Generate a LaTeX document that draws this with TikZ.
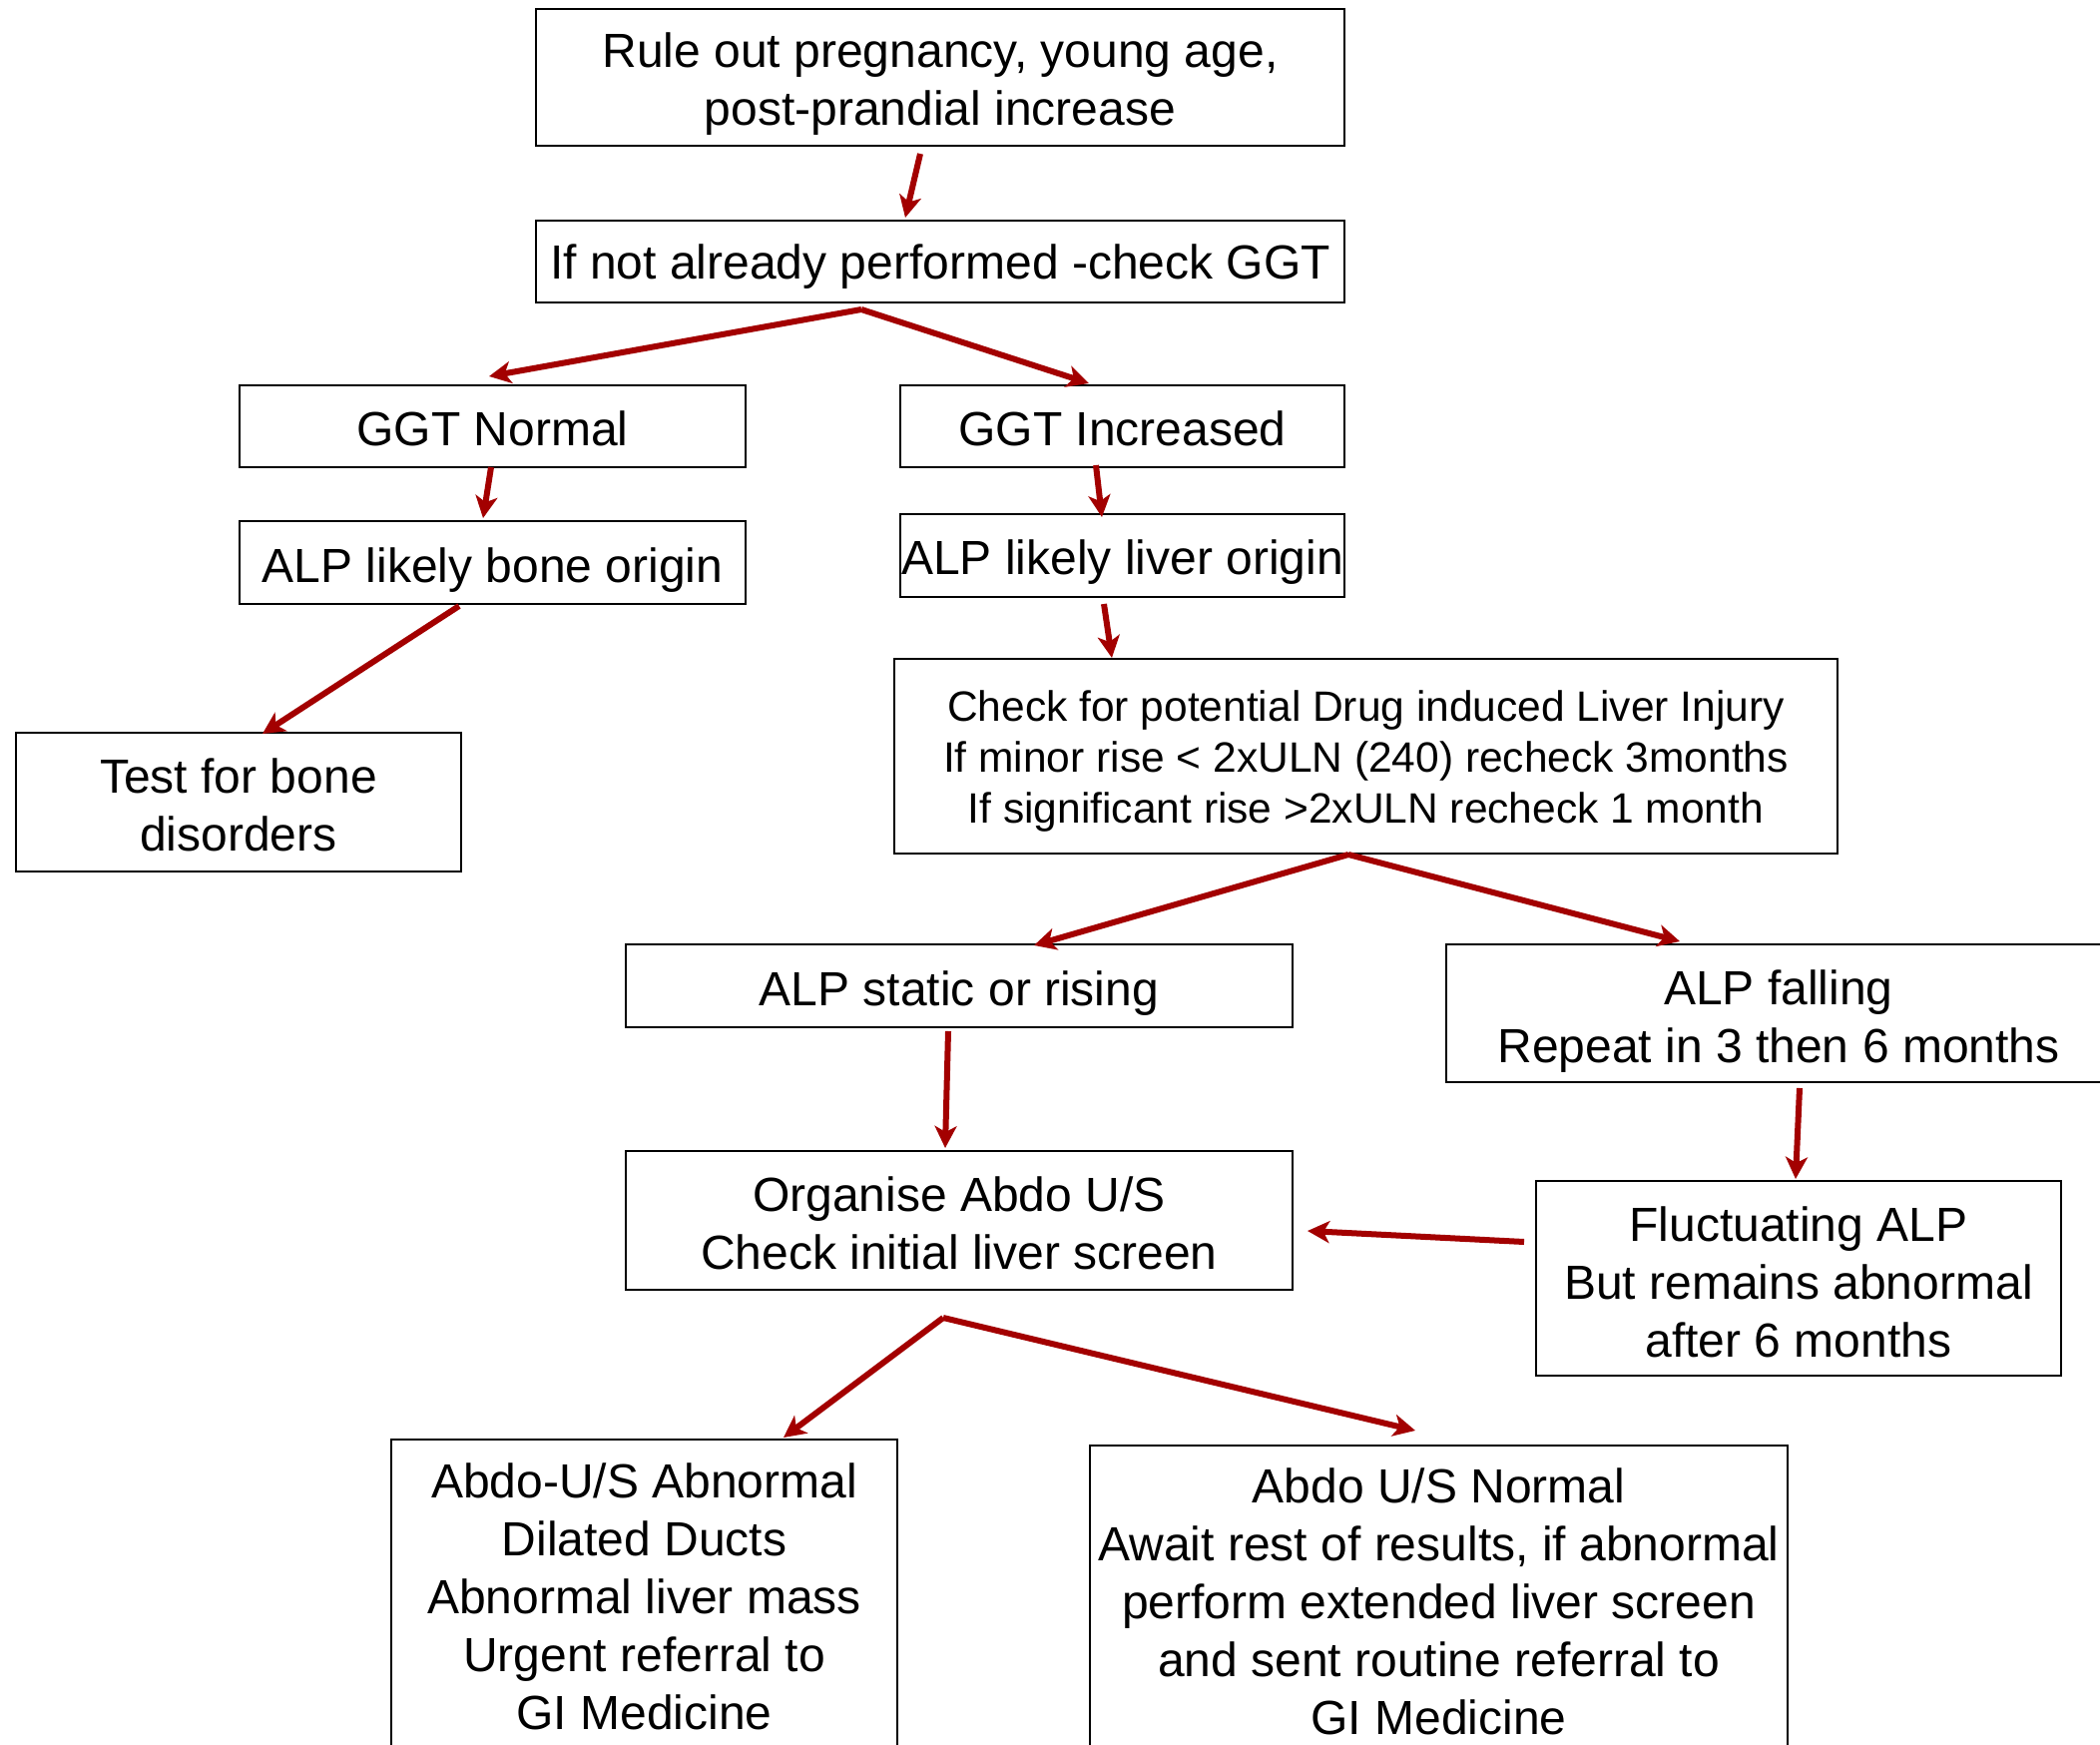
\documentclass[tikz,border=0pt]{standalone}
\usepackage{fontspec}
\setmainfont{Liberation Sans}
\usetikzlibrary{arrows.meta}
\definecolor{arrowred}{HTML}{A30000}
\begin{document}
\begin{tikzpicture}[x=0.5pt,y=-0.5pt,
  frame/.style={draw=black, line width=1.1pt, inner sep=0pt},
  boxtext/.style={inner sep=0pt, align=center,
    font=\fontsize{24pt}{29pt}\selectfont},
  smalltext/.style={boxtext, font=\fontsize{21.25pt}{25.5pt}\selectfont},
  flow/.style={draw=arrowred, line width=3pt,
    -{Stealth[length=11pt,width=11pt,inset=3pt]}}]
% page and clipping frame
\fill[white] (0,0) rectangle (2104,1748);
\clip (0,0) rectangle (2104,1748);

% box frames
\node[frame, minimum width=405pt, minimum height=68.5pt] (rule) at (942,77.5) {};
\node[frame, minimum width=405pt, minimum height=41pt] (ggt) at (942,262) {};
\node[frame, minimum width=253.5pt, minimum height=41pt] (ggtn) at (493.5,427) {};
\node[frame, minimum width=222.5pt, minimum height=41pt] (ggti) at (1124.5,427) {};
\node[frame, minimum width=253.5pt, minimum height=41.5pt] (bone) at (493.5,563.5) {};
\node[frame, minimum width=222.5pt, minimum height=41.5pt] (liver) at (1124.5,556.5) {};
\node[frame, minimum width=223pt, minimum height=69.5pt] (testbone) at (239,803.5) {};
\node[frame, minimum width=472.5pt, minimum height=97.5pt] (dili) at (1368.5,757.5) {};
\node[frame, minimum width=334pt, minimum height=41.5pt] (static) at (961,987.5) {};
\node[frame, minimum width=333pt, minimum height=69pt] (falling) at (1782,1015) {};
\node[frame, minimum width=334pt, minimum height=69.5pt] (organise) at (961,1222.5) {};
\node[frame, minimum width=263pt, minimum height=97.5pt] (fluct) at (1802,1280.5) {};
\node[frame, minimum width=253.5pt, minimum height=153.5pt] (abn) at (645.5,1595.5) {};
\node[frame, minimum width=349.5pt, minimum height=155pt] (norm) at (1441.5,1603) {};

% box texts
\node[boxtext] (ruletext) at ([yshift=-3.2pt]rule.center)
  {Rule out pregnancy, young age,\\post-prandial increase};
\node[boxtext] (ggttext) at ([yshift=-2.6pt]ggt.center)
  {If not already performed -check GGT};
\node[boxtext] (ggtntext) at ([yshift=-1.4pt]ggtn.center) {GGT Normal};
\node[boxtext] (ggtitext) at ([yshift=-1.4pt]ggti.center) {GGT Increased};
\node[boxtext] (bonetext) at ([yshift=-3.6pt]bone.center) {ALP likely bone origin};
\node[boxtext] (livertext) at ([yshift=-3.2pt]liver.center) {ALP likely liver origin};
\node[boxtext] (testbonetext) at ([yshift=-1.4pt]testbone.center)
  {Test for bone\\disorders};
\node[smalltext] (dilitext) at ([yshift=-2.6pt]dili.center)
  {Check for potential Drug induced Liver Injury\\If minor rise < 2xULN (240) recheck 3months\\If significant rise >2xULN recheck 1 month};
\node[boxtext] (statictext) at ([yshift=-3.8pt]static.center) {ALP static or rising};
\node[boxtext] (fallingtext) at ([yshift=-3.8pt]falling.center)
  {ALP falling\\Repeat in 3 then 6 months};
\node[boxtext] (organisetext) at ([yshift=-1.4pt]organise.center)
  {Organise Abdo U/S\\Check initial liver screen};
\node[boxtext] (flucttext) at ([yshift=-2pt]fluct.center)
  {Fluctuating ALP\\But remains abnormal\\after 6 months};
\node[boxtext] (abntext) at ([yshift=-2pt]abn.center)
  {Abdo-U/S Abnormal\\Dilated Ducts\\Abnormal liver mass\\Urgent referral to\\GI Medicine};
\node[boxtext] (normtext) at ([yshift=-0.8pt]norm.center)
  {Abdo U/S Normal\\Await rest of results, if abnormal\\perform extended liver screen\\and sent routine referral to\\GI Medicine};

% connector end points
\coordinate (ruleout) at (922,154);   \coordinate (ggtin) at (907,218);
\coordinate (ggtsplit) at (863,310);
\coordinate (ggtnin) at (490,377);    \coordinate (ggtiin) at (1091,384);
\coordinate (ggtnout) at (492,468);   \coordinate (bonein) at (484,519);
\coordinate (ggtiout) at (1098,466);  \coordinate (liverin) at (1104,518);
\coordinate (boneout) at (460,607);   \coordinate (testin) at (263,735);
\coordinate (liverout) at (1106,605); \coordinate (diliin) at (1114,659);
\coordinate (dilisplit) at (1351,856);
\coordinate (staticin) at (1036,947); \coordinate (fallingin) at (1683,943);
\coordinate (staticout) at (950,1033); \coordinate (orgin) at (947,1150);
\coordinate (fallingout) at (1803,1090); \coordinate (fluctin) at (1799,1181);
\coordinate (fluctout) at (1527,1244); \coordinate (orgside) at (1310,1233);
\coordinate (orgsplit) at (945,1320);
\coordinate (abnin) at (785,1440);    \coordinate (normin) at (1418,1433);

% connectors
\draw[flow] (ruleout) -- (ggtin);
\draw[flow] (ggtsplit) -- (ggtnin);
\draw[flow] (ggtsplit) -- (ggtiin);
\draw[flow] (ggtnout) -- (bonein);
\draw[flow] (ggtiout) -- (liverin);
\draw[flow] (boneout) -- (testin);
\draw[flow] (liverout) -- (diliin);
\draw[flow] (dilisplit) -- (staticin);
\draw[flow] (dilisplit) -- (fallingin);
\draw[flow] (staticout) -- (orgin);
\draw[flow] (fallingout) -- (fluctin);
\draw[flow] (fluctout) -- (orgside);
\draw[flow] (orgsplit) -- (abnin);
\draw[flow] (orgsplit) -- (normin);
\end{tikzpicture}
\end{document}
